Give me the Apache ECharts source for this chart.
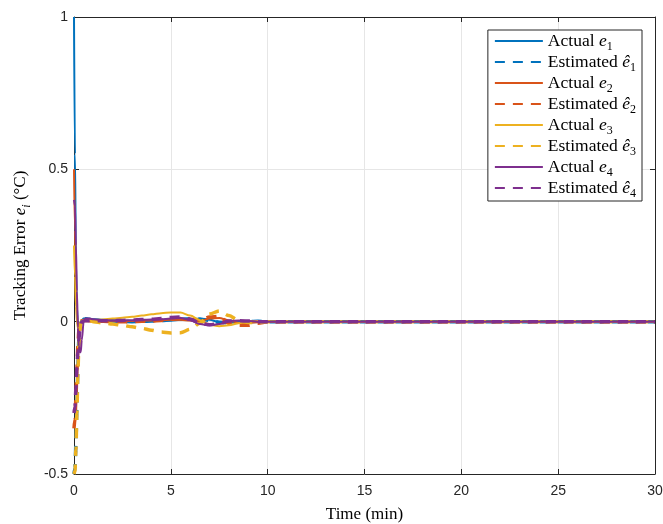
<!DOCTYPE html>
<html><head><meta charset="utf-8">
<script src="https://cdn.jsdelivr.net/npm/echarts@6/dist/echarts.min.js"></script>
<style>html,body{margin:0;padding:0;background:#fff}#c{width:663px;height:524px}</style>
</head><body><div id="c"></div>
<script>
const t     = [0, 0.05, 0.1, 0.15, 0.2, 0.25, 0.3, 0.35, 0.4, 0.5, 0.6, 0.8, 1, 1.5, 2, 2.5, 3, 3.5, 4, 4.5, 5, 5.5, 6, 6.5, 7, 7.5, 8, 8.5, 9, 9.5, 10, 11, 12, 15, 20, 25, 30];
const e1    = [1.0, 0.55, 0.2, 0.05, -0.01, -0.02, -0.01, 0.0, 0.005, 0.01, 0.012, 0.01, 0.008, 0.006, 0.004, 0.003, 0.002, 0.002, 0.002, 0.003, 0.004, 0.006, 0.008, 0.01, 0.006, -0.002, -0.004, -0.002, 0.0, 0.001, 0, 0, 0, 0, 0, 0, 0];
const e1hat = [-0.5, -0.48, -0.4, -0.28, -0.15, -0.06, -0.02, -0.005, 0.0, 0.005, 0.006, 0.005, 0.004, 0.003, 0.002, 0.001, 0.0, 0.001, 0.002, 0.004, 0.006, 0.008, 0.009, 0.008, 0.004, -0.002, -0.004, -0.002, 0.0, 0.001, 0, 0, 0, 0, 0, 0, 0];
const e2    = [0.5, 0.3, 0.12, 0.03, -0.01, -0.015, -0.01, -0.003, 0.0, 0.004, 0.006, 0.006, 0.005, 0.004, 0.003, 0.002, 0.002, 0.003, 0.004, 0.005, 0.006, 0.006, 0.004, 0.002, 0.01, 0.012, 0.004, -0.004, -0.004, -0.002, 0, 0, 0, 0, 0, 0, 0];
const e2hat = [-0.35, -0.32, -0.25, -0.16, -0.08, -0.03, -0.01, 0.0, 0.003, 0.004, 0.004, 0.003, 0.002, 0.001, 0.0, 0.0, 0.0, 0.001, 0.002, 0.004, 0.008, 0.01, 0.008, 0.004, 0.015, 0.018, -0.005, -0.012, -0.012, -0.005, 0, 0, 0, 0, 0, 0, 0];
const e3    = [0.25, 0.15, 0.05, 0.0, -0.02, -0.02, -0.01, 0.0, 0.003, 0.005, 0.005, 0.005, 0.005, 0.007, 0.01, 0.013, 0.016, 0.02, 0.024, 0.028, 0.03, 0.03, 0.02, 0.005, -0.01, -0.015, -0.012, -0.005, 0.0, 0.002, 0.001, 0, 0, 0, 0, 0, 0];
const e3hat = [-0.5, -0.49, -0.42, -0.3, -0.17, -0.08, -0.03, -0.01, 0.0, 0.003, 0.004, 0.003, 0.0, -0.004, -0.008, -0.012, -0.017, -0.022, -0.028, -0.034, -0.037, -0.036, -0.025, -0.005, 0.025, 0.035, 0.02, 0.004, -0.003, -0.002, 0, 0, 0, 0, 0, 0, 0];
const e4    = [0.4, 0.38, 0.25, 0.1, -0.02, -0.08, -0.1, -0.1, -0.06, 0.0, 0.01, 0.01, 0.008, 0.005, 0.004, 0.004, 0.005, 0.006, 0.007, 0.008, 0.01, 0.012, 0.005, -0.008, -0.012, -0.008, 0.002, 0.004, 0.002, 0.0, 0, 0, 0, 0, 0, 0, 0];
const e4hat = [-0.3, -0.28, -0.22, -0.15, -0.1, -0.06, -0.03, -0.01, 0.0, 0.002, 0.003, 0.003, 0.003, 0.003, 0.003, 0.004, 0.005, 0.007, 0.008, 0.01, 0.014, 0.015, 0.008, -0.005, -0.01, -0.006, 0.002, 0.003, 0.002, 0.0, 0, 0, 0, 0, 0, 0, 0];
const xTicks = [0, 5, 10, 15, 20, 25, 30];
const yTicks = [-0.5, 0, 0.5, 1];

const colors = ['#0072BD', '#D95319', '#EDB120', '#7E2F8E'];
const actual = [e1, e2, e3, e4];
const est = [e1hat, e2hat, e3hat, e4hat];
const series = [];
const legendNames = {};
for (let k = 0; k < 4; k++) {
  const an = 'Actual e' + (k + 1), en = 'Estimated e' + (k + 1);
  legendNames[an] = '{n|Actual }{i|e}{s|' + (k + 1) + '}';
  legendNames[en] = '{n|Estimated }{i|ê}{s|' + (k + 1) + '}';
  series.push({name: an, type: 'line', symbol: 'none', showSymbol: false, smooth: 0.3, smoothMonotone: 'x',
    data: t.map((x, i) => [x, actual[k][i]]),
    lineStyle: {color: colors[k], width: 2}, itemStyle: {color: colors[k]}});
  series.push({name: en, type: 'line', symbol: 'none', showSymbol: false, smooth: 0.3, smoothMonotone: 'x',
    data: t.map((x, i) => [x, est[k][i]]),
    lineStyle: {color: colors[k], width: 3.5, type: [10, 8]}, itemStyle: {color: colors[k]}});
}
const chart = echarts.init(document.getElementById('c'), null, {renderer: 'canvas'});
const axisCol = '#262626';
const tickStyle = {inside: true, length: 5, lineStyle: {color: axisCol}};
chart.setOption({
  animation: false,
  grid: {left: 74, right: 8, top: 17, bottom: 50, outerBoundsMode: 'none', containLabel: false},
  legend: {
    orient: 'vertical', right: 21, top: 30,
    backgroundColor: '#fff', borderColor: axisCol, borderWidth: 1,
    padding: [2, 6, 1, 6], itemWidth: 48, itemHeight: 14, itemGap: 0,
    itemStyle: {opacity: 0},
    formatter: n => legendNames[n],
    textStyle: {
      rich: {
        n: {fontFamily: 'Liberation Serif', fontSize: 17.5, color: '#000', lineHeight: 24, verticalAlign: 'middle'},
        i: {fontFamily: 'Liberation Serif', fontStyle: 'italic', fontSize: 17.5, color: '#000', lineHeight: 24, verticalAlign: 'middle'},
        s: {fontFamily: 'Liberation Serif', fontSize: 12, color: '#000', verticalAlign: 'bottom', lineHeight: 9}
      }
    }
  },
  xAxis: [{
    type: 'value', min: 0, max: 30, interval: 5,
    name: 'Time (min)', nameLocation: 'middle', nameGap: 32,
    nameTextStyle: {fontFamily: 'Liberation Serif', fontSize: 17, color: '#000'},
    axisLine: {onZero: false, lineStyle: {color: axisCol}}, axisTick: tickStyle,
    axisLabel: {fontFamily: 'Liberation Sans', fontSize: 14, color: '#262626', margin: 10},
    splitLine: {lineStyle: {color: '#e6e6e6'}}
  }, {
    type: 'value', min: 0, max: 30, interval: 5, position: 'top',
    axisLine: {show: true, onZero: false, lineStyle: {color: axisCol}}, axisTick: tickStyle,
    axisLabel: {show: false}, splitLine: {show: false}
  }],
  yAxis: [{
    type: 'value', min: -0.5, max: 1, interval: 0.5,
    name: '{n|Tracking Error }{i|e}{s|i}{n| (°C)}', nameLocation: 'middle', nameGap: 41, nameRotate: 90,
    nameTextStyle: {rich: {
      n: {fontFamily: 'Liberation Serif', fontSize: 17, color: '#000', lineHeight: 24, verticalAlign: 'middle'},
      i: {fontFamily: 'Liberation Serif', fontStyle: 'italic', fontSize: 17, color: '#000', lineHeight: 24, verticalAlign: 'middle'},
      s: {fontFamily: 'Liberation Serif', fontStyle: 'italic', fontSize: 12, color: '#000', verticalAlign: 'bottom', lineHeight: 9}
    }},
    axisLine: {show: true, onZero: false, lineStyle: {color: axisCol}}, axisTick: tickStyle,
    axisLabel: {fontFamily: 'Liberation Sans', fontSize: 14, color: '#262626', margin: 6, formatter: v => String(v)},
    splitLine: {lineStyle: {color: '#e6e6e6'}}
  }, {
    type: 'value', min: -0.5, max: 1, interval: 0.5, position: 'right',
    axisLine: {show: true, onZero: false, lineStyle: {color: axisCol}}, axisTick: tickStyle,
    axisLabel: {show: false}, splitLine: {show: false}
  }],
  series: series
});
</script></body></html>
